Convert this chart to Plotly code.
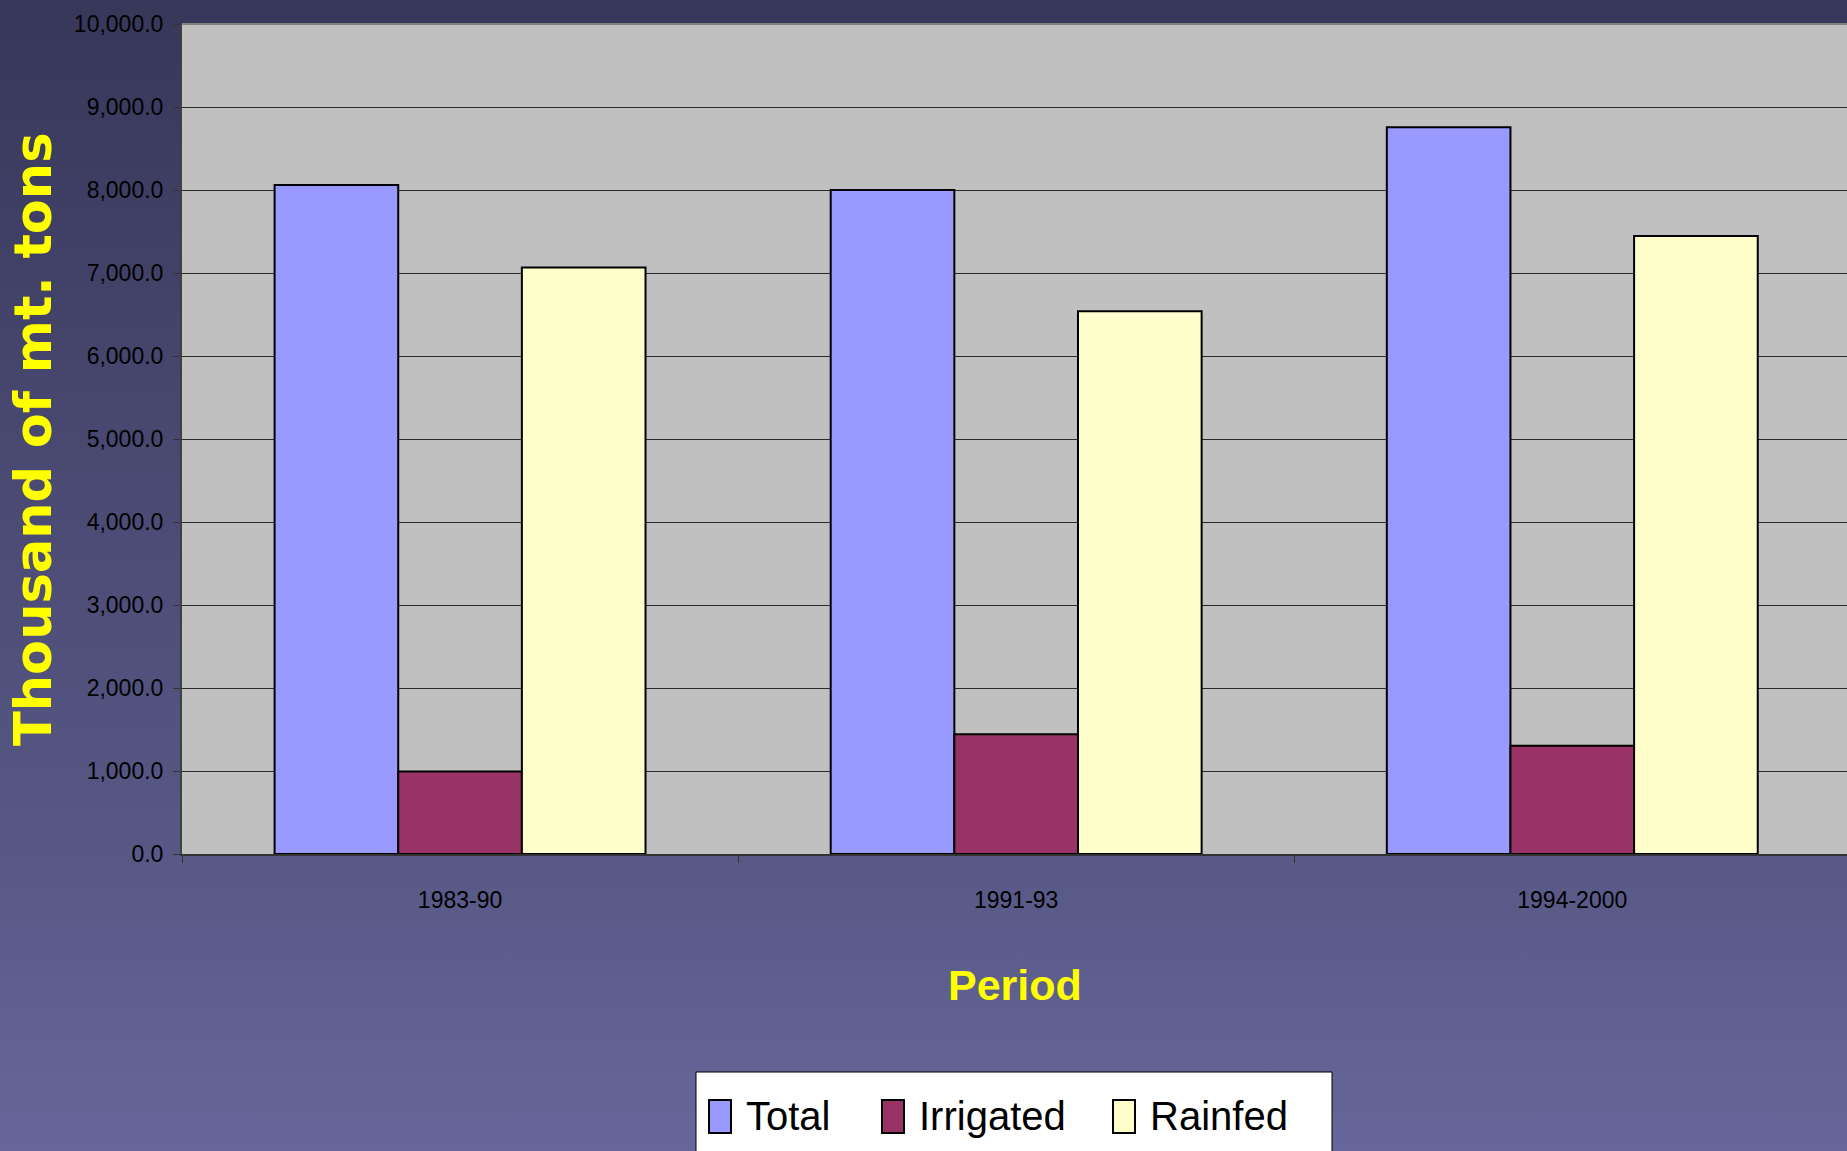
import plotly.graph_objects as go

# Production by period (thousand metric tons)
periods = ["1983-90", "1991-93", "1994-2000"]
series_names = ["Total", "Irrigated", "Rainfed"]
total = [8060, 8000, 8755]
irrigated = [995, 1442, 1305]
rainfed = [7065, 6540, 7445]
y_ticks = [0, 1000, 2000, 3000, 4000, 5000, 6000, 7000, 8000, 9000, 10000]

colors = ["#9999FF", "#993366", "#FFFFCC"]

W, H = 1847, 1151
ML, MT, MB, MR = 182, 24, 297, 0
PW, PH = W - ML - MR, H - MT - MB

SANS = "Liberation Sans Narrow, Arial Narrow, Liberation Sans, Arial, sans-serif"


def px(x):
    return (x - ML) / PW


def py(y):
    return (H - MB - y) / PH


fig = go.Figure()
for name, vals, col in zip(series_names, [total, irrigated, rainfed], colors):
    fig.add_trace(go.Bar(
        x=periods, y=vals, name=name,
        marker=dict(color=col, line=dict(color="#000000", width=2)),
        showlegend=False,
    ))

# vertical gradient behind the whole figure
grad_svg = (
    "data:image/svg+xml;utf8,"
    "<svg xmlns='http://www.w3.org/2000/svg' width='100' height='100' preserveAspectRatio='none'>"
    "<defs><linearGradient id='g' x1='0' y1='0' x2='0' y2='1'>"
    "<stop offset='0' stop-color='%2337375A'/>"
    "<stop offset='0.74' stop-color='%23585886'/>"
    "<stop offset='1' stop-color='%2366669A'/>"
    "</linearGradient></defs>"
    "<rect width='100' height='100' fill='url(%23g)'/></svg>"
)

shapes = [
    # grey plotting area
    dict(type="rect", xref="paper", yref="paper", x0=0, x1=1, y0=0, y1=1,
         fillcolor="#C0C0C0", line=dict(width=0), layer="below"),
    # plot area top border
    dict(type="line", xref="paper", yref="paper", x0=0, x1=1, y0=1, y1=1,
         line=dict(color="#808080", width=2)),
]

annotations = [
    dict(text="Thousand of mt. tons", xref="paper", yref="paper",
         x=px(33), y=0.5, textangle=-90, showarrow=False,
         xanchor="center", yanchor="middle",
         font=dict(family="DejaVu Sans", size=51, color="#FFFF00", weight="bold")),
    dict(text="<b>Period</b>", xref="paper", yref="paper",
         x=px(1015), y=py(985), showarrow=False,
         xanchor="center", yanchor="middle",
         font=dict(family=SANS, size=43, color="#FFFF00")),
]

# legend box
shapes.append(dict(type="rect", xref="paper", yref="paper",
                   x0=px(696), x1=px(1332), y0=py(1072), y1=py(1165),
                   fillcolor="#FFFFFF", line=dict(color="#000000", width=1)))
sw_x = [709, 882, 1113]
tx_x = [744, 917, 1148]
for name, col, sx, tx in zip(series_names, colors, sw_x, tx_x):
    shapes.append(dict(type="rect", xref="paper", yref="paper",
                       x0=px(sx), x1=px(sx + 22), y0=py(1133), y1=py(1100),
                       fillcolor=col, line=dict(color="#000000", width=2)))
    annotations.append(dict(text=name, xref="paper", yref="paper",
                            x=px(tx), y=py(1116), showarrow=False,
                            xanchor="left", yanchor="middle",
                            font=dict(family=SANS, size=40, color="#000000")))

fig.update_layout(
    width=W, height=H,
    margin=dict(l=ML, r=MR, t=MT, b=MB, pad=0),
    paper_bgcolor="#37375A",
    plot_bgcolor="rgba(0,0,0,0)",
    barmode="group", bargap=0.333, bargroupgap=0,
    images=[dict(source=grad_svg, xref="paper", yref="paper",
                 x=px(0), y=py(0), sizex=W / PW, sizey=H / PH,
                 xanchor="left", yanchor="top", sizing="stretch", layer="below")],
    shapes=shapes,
    annotations=annotations,
    xaxis=dict(
        type="category", range=[-0.5, 2.494],
        showgrid=False, showline=True, linecolor="#333333", linewidth=2,
        ticks="outside", tickson="boundaries", ticklen=7, tickcolor="#333333",
        tickfont=dict(family=SANS, size=23, color="#000000"),
        ticklabelstandoff=24, fixedrange=True,
    ),
    yaxis=dict(
        range=[0, 10000], tickvals=y_ticks, tickformat=",.1f",
        showgrid=True, gridcolor="#2A2A2A", gridwidth=1,
        showline=True, linecolor="#404040", linewidth=2,
        ticks="outside", ticklen=7, tickcolor="#333333",
        tickfont=dict(family=SANS, size=23, color="#000000"),
        ticklabelstandoff=5, zeroline=False, fixedrange=True,
    ),
)

fig.write_html("out.html")
